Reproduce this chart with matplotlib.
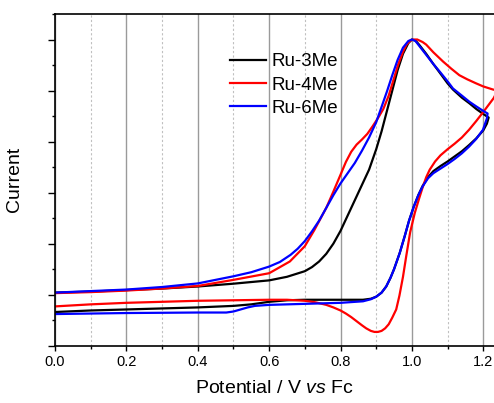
import matplotlib
matplotlib.use("Agg")
import matplotlib.pyplot as plt
from matplotlib.ticker import MultipleLocator

plt.rcParams['font.family'] = ['Liberation Sans', 'DejaVu Sans']
plt.rcParams['mathtext.fontset'] = 'custom'
plt.rcParams['mathtext.rm'] = 'Liberation Sans'
plt.rcParams['mathtext.it'] = 'Liberation Sans:italic'

# Ru-3Me: anodic sweep then return sweep (potential / V, current arb.)
e_3me = [0.0, 0.1, 0.2, 0.3, 0.4, 0.5, 0.6, 0.65, 0.7, 0.72, 0.74, 0.76, 0.78, 0.8,
         0.82, 0.84, 0.86, 0.88, 0.9, 0.915, 0.93, 0.945, 0.96, 0.975, 0.99, 1.0,
         1.01, 1.02, 1.04, 1.06, 1.078, 1.1, 1.115, 1.14, 1.161, 1.18, 1.2, 1.215,
         1.21, 1.2, 1.18, 1.16, 1.14, 1.12, 1.1, 1.08, 1.06, 1.045, 1.03, 1.018,
         1.005, 0.992, 0.98, 0.966, 0.95, 0.94, 0.928, 0.915, 0.9, 0.885, 0.863,
         0.8, 0.7, 0.65, 0.6, 0.55, 0.5, 0.4, 0.3, 0.2, 0.1, 0.0]
i_3me = [0.04, 0.06, 0.09, 0.12, 0.16, 0.215, 0.28, 0.35, 0.46, 0.54, 0.65, 0.8, 1.0, 1.25,
         1.55, 1.85, 2.15, 2.45, 2.85, 3.2, 3.6, 4.0, 4.4, 4.72, 4.93, 5.0,
         4.98, 4.9, 4.72, 4.52, 4.35, 4.14, 4.02, 3.86, 3.75, 3.64, 3.54, 3.47,
         3.35, 3.22, 3.06, 2.93, 2.81, 2.71, 2.61, 2.52, 2.42, 2.3, 2.13, 1.95,
         1.72, 1.45, 1.15, 0.82, 0.5, 0.33, 0.16, 0.04, -0.04, -0.08, -0.1,
         -0.1, -0.1, -0.11, -0.14, -0.19, -0.22, -0.25, -0.27, -0.29, -0.31, -0.34]

# Ru-4Me
e_4me = [0.0, 0.1, 0.2, 0.3, 0.4, 0.5, 0.6, 0.658, 0.7, 0.727, 0.76, 0.78, 0.8, 0.815,
         0.83, 0.845, 0.86, 0.875, 0.89, 0.905, 0.92, 0.935, 0.948, 0.961, 0.975,
         0.985, 0.996, 1.006, 1.015, 1.03, 1.04, 1.06, 1.087, 1.11, 1.133, 1.155,
         1.18, 1.2, 1.227, 1.24,
         1.229, 1.215, 1.2, 1.18, 1.16, 1.14, 1.12, 1.1, 1.08, 1.065, 1.05, 1.04,
         1.03, 1.02, 1.008, 0.995, 0.984, 0.975, 0.965, 0.956, 0.945, 0.935, 0.925,
         0.915, 0.905, 0.895, 0.885, 0.872, 0.86, 0.845, 0.83, 0.815, 0.8, 0.78,
         0.76, 0.73, 0.7, 0.65, 0.6, 0.5, 0.4, 0.3, 0.2, 0.1, 0.0]
i_4me = [0.03, 0.05, 0.08, 0.12, 0.17, 0.29, 0.42, 0.65, 0.95, 1.27, 1.7, 2.02, 2.35, 2.6,
         2.8, 2.94, 3.04, 3.15, 3.3, 3.46, 3.64, 3.9, 4.2, 4.5, 4.76,
         4.9, 4.98, 5.0, 5.0, 4.95, 4.9, 4.75, 4.57, 4.43, 4.3, 4.22,
         4.14, 4.08, 4.02, 4.0,
         3.85, 3.72, 3.58, 3.4, 3.23, 3.08, 2.96, 2.85, 2.73, 2.61, 2.45, 2.3,
         2.1, 1.88, 1.6, 1.22, 0.75, 0.35, -0.02, -0.29, -0.45, -0.58, -0.66,
         -0.71, -0.73, -0.73, -0.71, -0.66, -0.6, -0.52, -0.44, -0.37, -0.31, -0.25,
         -0.2, -0.15, -0.12, -0.1, -0.1, -0.11, -0.12, -0.14, -0.16, -0.19, -0.23]

# Ru-6Me
e_6me = [0.0, 0.1, 0.2, 0.3, 0.4, 0.5, 0.55, 0.6, 0.63, 0.66, 0.68, 0.7, 0.72, 0.74,
         0.76, 0.78, 0.8, 0.82, 0.84, 0.86, 0.88, 0.9, 0.915, 0.93, 0.945, 0.96,
         0.975, 0.99, 1.0, 1.01, 1.02, 1.04, 1.06, 1.078, 1.1, 1.115, 1.14, 1.161,
         1.18, 1.2, 1.212,
         1.21, 1.205, 1.199, 1.18, 1.16, 1.14, 1.12, 1.1, 1.08, 1.06, 1.045, 1.03,
         1.018, 1.005, 0.992, 0.98, 0.966, 0.95, 0.94, 0.928, 0.915, 0.9, 0.885,
         0.863, 0.8, 0.7, 0.6, 0.56, 0.54, 0.52, 0.5, 0.48, 0.4, 0.2, 0.0]
i_6me = [0.04, 0.07, 0.1, 0.15, 0.22, 0.36, 0.44, 0.55, 0.64, 0.78, 0.9, 1.05, 1.24, 1.45,
         1.7, 1.95, 2.18, 2.38, 2.58, 2.82, 3.08, 3.38, 3.68, 3.98, 4.3, 4.6,
         4.84, 4.97, 5.0, 4.97, 4.88, 4.7, 4.52, 4.37, 4.18, 4.04, 3.9, 3.78,
         3.69, 3.6, 3.55,
         3.45, 3.35, 3.23, 3.05, 2.9, 2.77, 2.66, 2.56, 2.47, 2.38, 2.28, 2.12,
         1.95, 1.72, 1.45, 1.15, 0.82, 0.5, 0.33, 0.16, 0.04, -0.04, -0.09,
         -0.13, -0.16, -0.18, -0.2, -0.22, -0.25, -0.29, -0.33, -0.35, -0.35, -0.36, -0.38]

fig = plt.figure(figsize=(4.94, 4.03), dpi=100)
ax = fig.add_axes([0.1113, 0.1422, 0.8887, 0.8231])

ax.plot(e_3me, i_3me, color="black", lw=1.6, label="Ru-3Me")
ax.plot(e_4me, i_4me, color="red", lw=1.6, label="Ru-4Me")
ax.plot(e_6me, i_6me, color="blue", lw=1.6, label="Ru-6Me")

ax.set_xlim(0, 1.23)
ax.set_ylim(-1, 5.5)

# vertical grid lines
ax.xaxis.set_major_locator(MultipleLocator(0.2))
ax.xaxis.set_minor_locator(MultipleLocator(0.1))
ax.yaxis.set_major_locator(MultipleLocator(1))
ax.yaxis.set_minor_locator(MultipleLocator(0.5))
ax.grid(axis="x", which="major", color="#9a9a9a", lw=1.0, ls="-")
ax.grid(axis="x", which="minor", color="#c0c0c0", lw=0.8, ls=(0, (2, 2)))
ax.set_axisbelow(True)

ax.tick_params(axis="x", which="major", direction="out", length=3.5, width=1,
               labelsize=10.5, pad=3)
ax.tick_params(axis="x", which="minor", direction="out", length=2, width=1)
ax.tick_params(axis="y", which="major", direction="out", length=5, width=1, labelleft=False)
ax.tick_params(axis="y", which="minor", direction="out", length=2.5, width=1)
ax.set_xticks([0.0, 0.2, 0.4, 0.6, 0.8, 1.0, 1.2])
ax.set_xticklabels(["0.0", "0.2", "0.4", "0.6", "0.8", "1.0", "1.2"])

for s in ["left", "bottom", "top"]:
    ax.spines[s].set_linewidth(1.2)
ax.spines["right"].set_visible(False)

ax.set_xlabel("Potential / V $\\mathit{vs}$ Fc", fontsize=14, labelpad=8)
ax.set_ylabel("Current", fontsize=14)
ax.yaxis.set_label_coords(-0.073, 0.5)

ax.legend(loc="upper left", bbox_to_anchor=(0.399, 0.882), frameon=False,
          fontsize=13.5, handlelength=1.9, handletextpad=0.3, labelspacing=0.33,
          borderpad=0, borderaxespad=0)

fig.savefig("out.png", dpi=100)
